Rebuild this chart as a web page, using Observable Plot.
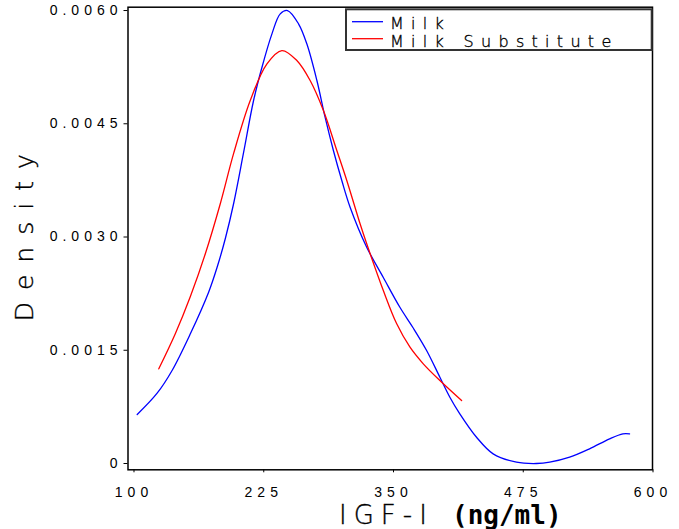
<!DOCTYPE html>
<html>
<head>
<meta charset="utf-8">
<script src="https://cdn.jsdelivr.net/npm/d3@7"></script>
<script src="https://cdn.jsdelivr.net/npm/@observablehq/plot@0.6"></script>
<style>
  html, body { margin: 0; padding: 0; background: #fff; }
  #chart svg { display: block; }
  g[aria-label="y-axis tick label"] text,
  g[aria-label="x-axis tick label"] text { letter-spacing: 5px; font-family: 'Liberation Sans', sans-serif; fill: #000; }
</style>
</head>
<body>
<div id="chart"></div>
<script>
// ---- data ----
const xTicks = [100, 225, 350, 475, 600];
const yTicks = [0, 0.0015, 0.0030, 0.0045, 0.0060];
const yTickLabels = ["0", "0.0015", "0.0030", "0.0045", "0.0060"];

const seriesNames = ["Milk", "Milk Substitute"];
const seriesColors = ["#0000ff", "#ff0000"];

const milkX = [105.5, 124.7, 139.1, 156.7, 174.3, 182.7, 190.4, 198.4, 208.0, 217.6, 225.7, 235.3, 243.3, 250.3, 260.9, 268.9, 278.6, 286.5, 294.5, 302.6, 310.6, 326.6, 342.6, 358.7, 371.4, 384.3, 397.1, 406.7, 416.3, 432.4, 448.4, 470.9, 490.1, 502.9, 522.1, 541.3, 560.6, 573.4, 579.8];
const milkY = [0.000649, 0.000931, 0.001232, 0.001718, 0.002269, 0.002609, 0.002980, 0.003444, 0.004120, 0.004808, 0.005249, 0.005691, 0.005956, 0.006000, 0.005824, 0.005559, 0.005073, 0.004587, 0.004146, 0.003748, 0.003395, 0.002865, 0.002464, 0.002066, 0.001795, 0.001497, 0.001143, 0.000878, 0.000658, 0.000348, 0.000128, 0.000017, 0.000000, 0.000017, 0.000083, 0.000194, 0.000327, 0.000393, 0.000393];

const subX = [126.3, 142.3, 156.7, 171.2, 185.6, 198.4, 214.4, 230.5, 244.9, 259.3, 272.1, 284.9, 297.8, 307.4, 320.2, 326.6, 342.6, 355.5, 368.3, 381.1, 397.1, 418.0];
const subY = [0.001254, 0.001722, 0.002212, 0.002781, 0.003444, 0.004107, 0.004808, 0.005294, 0.005470, 0.005338, 0.005073, 0.004675, 0.004146, 0.003748, 0.003175, 0.002910, 0.002291, 0.001850, 0.001540, 0.001320, 0.001099, 0.000834];

const milk = milkX.map((x, i) => ({x, y: milkY[i]}));
const sub = subX.map((x, i) => ({x, y: subY[i]}));

const plot = Plot.plot({
  width: 679,
  height: 529,
  marginLeft: 127.5,
  marginRight: 27,
  marginTop: 6.7,
  marginBottom: 59.7,
  style: {fontFamily: "'Liberation Sans', sans-serif", background: "#fff", color: "#000"},
  x: {domain: [96.63, 601.92]},
  y: {domain: [-0.0000834, 0.006044]},
  marks: [
    Plot.axisX({ticks: xTicks, tickSize: 3, tickPadding: 14, fontSize: 14, label: null, dx: 2.5, strokeWidth: 1}),
    Plot.axisY({ticks: yTicks, tickSize: 4, tickPadding: 1.5, fontSize: 14, label: null,
      tickFormat: (d) => yTickLabels[yTicks.indexOf(d)], strokeWidth: 1}),
    Plot.line(milk, {x: "x", y: "y", stroke: seriesColors[0], strokeWidth: 1.3, curve: "catmull-rom"}),
    Plot.line(sub, {x: "x", y: "y", stroke: seriesColors[1], strokeWidth: 1.3, curve: "catmull-rom"}),
    Plot.frame({stroke: "#000", strokeWidth: 1.5})
  ]
});

document.getElementById("chart").appendChild(plot);

const svg = d3.select(plot);
const thinFont = "'DejaVu Sans', 'Liberation Sans', sans-serif";

function thinText(sel) {
  return sel.attr("font-family", thinFont)
    .attr("font-weight", 200)
    .attr("fill", "#000")
    .attr("stroke", "#000")
    .attr("stroke-width", 0.35);
}

// axis titles
thinText(svg.append("text"))
  .attr("transform", "translate(33,231.8) rotate(-90)")
  .attr("text-anchor", "middle")
  .attr("font-size", 25)
  .attr("letter-spacing", "12px")
  .text("Density");

thinText(svg.append("text"))
  .attr("x", 339).attr("y", 524)
  .attr("text-anchor", "start")
  .attr("font-size", 26)
  .attr("letter-spacing", "7px")
  .text("IGF-I");

svg.append("text")
  .attr("x", 452).attr("y", 524)
  .attr("text-anchor", "start")
  .attr("font-family", "'DejaVu Sans Mono', monospace")
  .attr("font-weight", "bold")
  .attr("font-size", 26)
  .attr("fill", "#000")
  .text("(ng/ml)");

// legend
const lg = svg.append("g");
lg.append("rect")
  .attr("x", 346).attr("y", 9.3).attr("width", 305.7).attr("height", 40.7)
  .attr("fill", "#fff").attr("stroke", "#333").attr("stroke-width", 2);
seriesNames.forEach((name, i) => {
  const y = 21.7 + i * 17;
  lg.append("line")
    .attr("x1", 352).attr("x2", 383).attr("y1", y).attr("y2", y)
    .attr("stroke", seriesColors[i]).attr("stroke-width", 1.3);
  thinText(lg.append("text"))
    .attr("x", 390).attr("y", 29.3 + i * 17.7)
    .attr("text-anchor", "start")
    .attr("font-size", 16)
    .attr("letter-spacing", "7.3px")
    .text(name);
});
</script>
</body>
</html>
